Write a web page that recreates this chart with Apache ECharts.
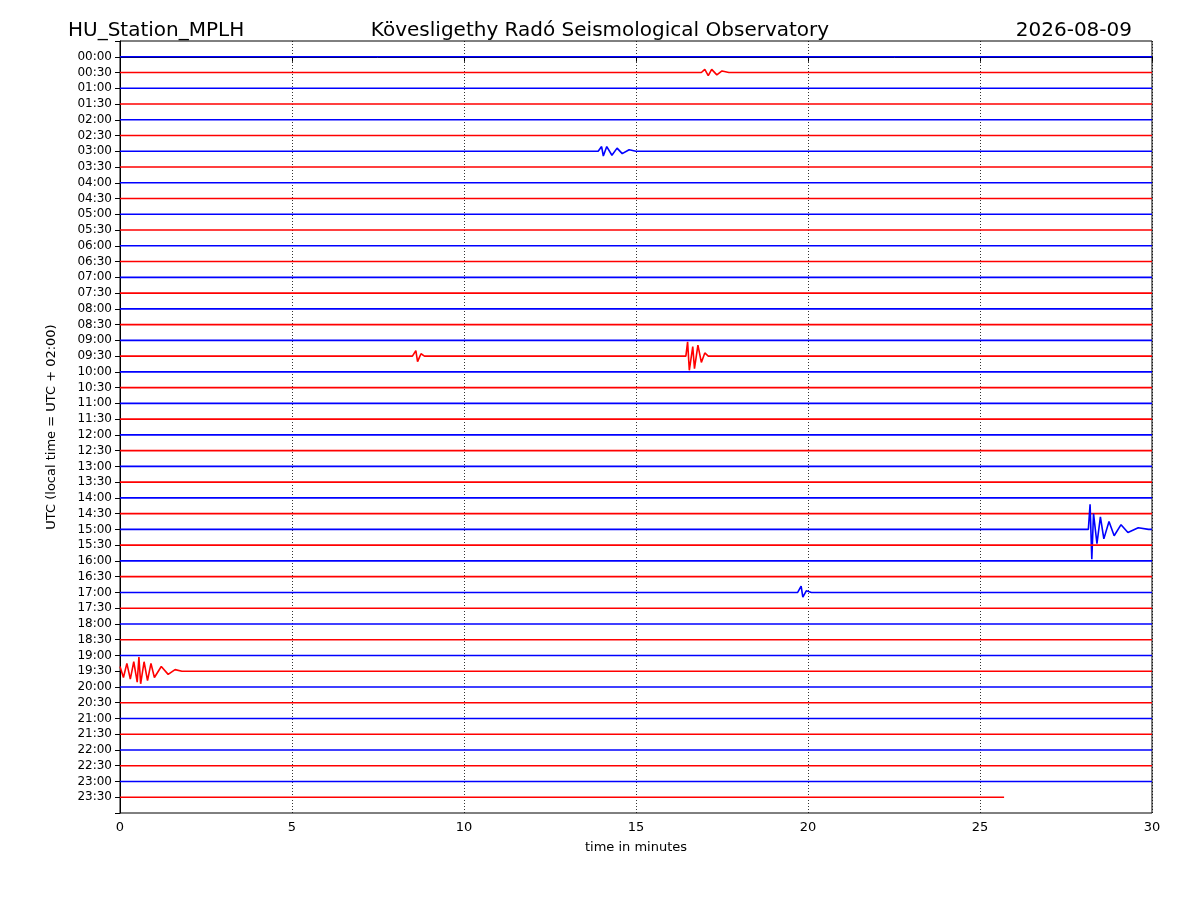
<!DOCTYPE html>
<html><head><meta charset="utf-8">
<script src="https://cdn.jsdelivr.net/npm/echarts@6/dist/echarts.min.js"></script>
<style>body{margin:0}#main{width:1200px;height:900px}</style>
</head><body><div id="main"></div>
<script>
// row labels, one trace per half hour
var rowLabels = [];
for (var h = 0; h < 24; h++) {
  var hh = (h < 10 ? '0' : '') + h;
  rowLabels.push(hh + ':00', hh + ':30');
}
var traceEnd = 30;
var lastTraceEnd = 25.7;

// events: [minute, amplitude in trace spacing units (up +)]
var ev0030 = [[16.9, 0], [17.0, 0.2], [17.1, -0.2], [17.2, 0.2], [17.35, -0.15], [17.5, 0.1], [17.7, 0]];
var ev0300 = [[13.9, 0], [14.0, 0.3], [14.05, -0.3], [14.15, 0.3], [14.3, -0.25], [14.45, 0.2], [14.6, -0.15], [14.8, 0.1], [15.0, 0]];
var ev0930 = [[8.5, 0], [8.6, 0.35], [8.65, -0.35], [8.75, 0.15], [8.85, 0], [16.45, 0], [16.5, 0.9], [16.55, -0.9], [16.65, 0.6], [16.7, -0.8], [16.8, 0.7], [16.9, -0.4], [17.0, 0.2], [17.1, 0]];
var ev1500 = [[28.15, 0], [28.2, 1.6], [28.25, -1.9], [28.3, 1.0], [28.4, -0.9], [28.5, 0.8], [28.6, -0.6], [28.75, 0.5], [28.9, -0.4], [29.1, 0.3], [29.3, -0.2], [29.6, 0.1], [29.9, 0]];
var ev1700 = [[19.7, 0], [19.8, 0.4], [19.85, -0.3], [19.95, 0.1], [20.1, 0]];
var ev1930 = [[0, 0.3], [0.1, -0.4], [0.2, 0.5], [0.3, -0.5], [0.4, 0.6], [0.5, -0.7], [0.55, 0.9], [0.6, -0.8], [0.7, 0.6], [0.8, -0.6], [0.9, 0.5], [1.0, -0.4], [1.2, 0.3], [1.4, -0.2], [1.6, 0.1], [1.8, 0]];
var events = { 1: ev0030, 6: ev0300, 19: ev0930, 30: ev1500, 34: ev1700, 39: ev1930 };

var chartDom = document.getElementById('main');
var myChart = echarts.init(chartDom);

var series = rowLabels.map(function (lab, i) {
  var end = i === rowLabels.length - 1 ? lastTraceEnd : traceEnd;
  var pts = [];
  var ev = events[i] || [];
  if (!ev.length || ev[0][0] > 0) pts.push([0, i]);
  ev.forEach(function (p) { pts.push([p[0], i - p[1]]); });
  if (!ev.length || ev[ev.length - 1][0] < end) pts.push([end, i]);
  return {
    type: 'line', data: pts, showSymbol: false, silent: true, animation: false,
    lineStyle: { width: 1.6, color: i % 2 ? '#ff0000' : '#0000ff' }
  };
});

var option = {
  textStyle: { fontFamily: 'DejaVu Sans' },
  title: [
    { text: 'HU_Station_MPLH', left: 63, top: 16, textStyle: { fontSize: 20, fontWeight: 'normal', color: '#000' } },
    { text: 'Kövesligethy Radó Seismological Observatory', left: 'center', top: 16, textStyle: { fontSize: 20, fontWeight: 'normal', color: '#000' } },
    { text: '2026-08-09', right: 63, top: 16, textStyle: { fontSize: 20, fontWeight: 'normal', color: '#000' } }
  ],
  grid: { left: 120, right: 48, top: 41, bottom: 87, show: true, borderColor: '#000', borderWidth: 1 },
  xAxis: {
    type: 'value', min: 0, max: 30, interval: 5,
    name: 'time in minutes', nameLocation: 'middle', nameGap: 28,
    nameTextStyle: { fontSize: 13, color: '#000' },
    axisLine: { lineStyle: { color: '#000' } },
    axisTick: { show: true, lineStyle: { color: '#000' } },
    axisLabel: { color: '#000', fontSize: 13 },
    splitLine: { show: true, lineStyle: { color: '#000', type: [1, 2], width: 0.8 } }
  },
  yAxis: {
    type: 'value', inverse: true, min: -1, max: 48, interval: 1,
    name: 'UTC (local time = UTC + 02:00)', nameLocation: 'middle', nameGap: 62,
    nameTextStyle: { fontSize: 13, color: '#000' },
    axisLine: { show: true, lineStyle: { color: '#000' } },
    axisTick: { show: true, lineStyle: { color: '#000' } },
    axisLabel: { color: '#000', fontSize: 12, formatter: function (v) { return rowLabels[v] || ''; } },
    splitLine: { show: false }
  },
  series: series
};
option && myChart.setOption(option);
</script></body></html>
